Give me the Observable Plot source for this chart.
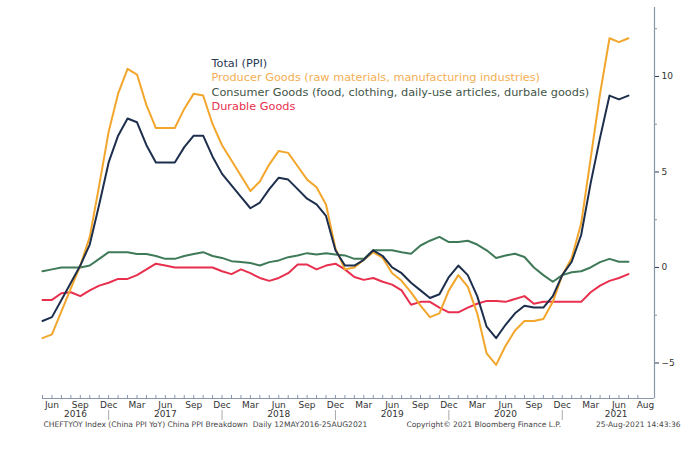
<!DOCTYPE html>
<html><head><meta charset="utf-8">
<script src="https://cdn.jsdelivr.net/npm/d3@7"></script>
<script src="https://cdn.jsdelivr.net/npm/@observablehq/plot@0.6"></script>
<style>body{margin:0;background:#fff;}</style>
</head><body><div id="chart"></div>
<script>
// Monthly values, May 2016 (index 0) .. Jul 2021 (index 62)
const total = [
  -2.8, -2.6, -1.7, -0.8, 0.1, 1.2, 3.3, 5.5,
  6.9, 7.8, 7.6, 6.4, 5.5, 5.5, 5.5, 6.3, 6.9, 6.9, 5.8, 4.9,
  4.3, 3.7, 3.1, 3.4, 4.1, 4.7, 4.6, 4.1, 3.6, 3.3, 2.7, 0.9,
  0.1, 0.1, 0.4, 0.9, 0.6, 0.0, -0.3, -0.8, -1.2, -1.6, -1.4, -0.5,
  0.1, -0.4, -1.5, -3.1, -3.7, -3.0, -2.4, -2.0, -2.1, -2.1, -1.5, -0.4,
  0.3, 1.7, 4.4, 6.8, 9.0, 8.8, 9.0
];
const producer = [
  -3.7, -3.5, -2.3, -1.1, 0.1, 1.6, 4.3, 7.1,
  9.1, 10.4, 10.1, 8.5, 7.3, 7.3, 7.3, 8.3, 9.1, 9.0, 7.5, 6.4,
  5.6, 4.8, 4.0, 4.5, 5.4, 6.1, 6.0, 5.3, 4.6, 4.2, 3.3, 1.0,
  -0.1, 0.0, 0.4, 0.8, 0.5, -0.3, -0.7, -1.3, -2.0, -2.6, -2.4, -1.2,
  -0.4, -1.0, -2.4, -4.5, -5.1, -4.1, -3.3, -2.8, -2.8, -2.7, -1.8, -0.4,
  0.5, 2.3, 5.7, 9.1, 12.0, 11.8, 12.0
];
const consumer = [
  -0.2, -0.1, 0.0, 0.0, 0.0, 0.1, 0.45, 0.8,
  0.8, 0.8, 0.7, 0.7, 0.6, 0.45, 0.45, 0.6, 0.7, 0.8, 0.6, 0.5,
  0.33, 0.28, 0.23, 0.1, 0.28, 0.37, 0.54, 0.63, 0.75, 0.68, 0.75, 0.68,
  0.63, 0.45, 0.45, 0.9, 0.9, 0.9, 0.8, 0.72, 1.15, 1.4, 1.6, 1.33,
  1.33, 1.4, 1.2, 0.9, 0.5, 0.63, 0.72, 0.55, 0.0, -0.4, -0.75, -0.4,
  -0.25, -0.2, 0.0, 0.28, 0.45, 0.3, 0.3
];
const durable = [
  -1.7, -1.7, -1.35, -1.3, -1.5, -1.2, -0.95, -0.8,
  -0.6, -0.6, -0.4, -0.1, 0.2, 0.1, 0.0, 0.0, 0.0, 0.0, 0.0, -0.2,
  -0.35, -0.1, -0.3, -0.55, -0.7, -0.55, -0.3, 0.15, 0.15, -0.1, 0.1, 0.2,
  -0.1, -0.5, -0.65, -0.55, -0.75, -0.9, -1.2, -1.95, -1.8, -1.8, -2.1, -2.35,
  -2.35, -2.1, -1.9, -1.75, -1.75, -1.8, -1.65, -1.5, -1.9, -1.8, -1.8, -1.8,
  -1.8, -1.8, -1.3, -0.95, -0.7, -0.55, -0.35
];

const seriesNames = [
  "Total (PPI)",
  "Producer Goods (raw materials, manufacturing industries)",
  "Consumer Goods (food, clothing, daily-use articles, durbale goods)",
  "Durable Goods"
];
const seriesValues = [total, producer, consumer, durable];
const lineColors = ["#1d2f4d", "#f2a62c", "#3f7a58", "#e8304e"];
const legendColors = ["#2a3a56", "#f3ae52", "#3f5547", "#e8304e"];

const monthTickIndex = [1,4,7,10,13,16,19,22,25,28,31,34,37,40,43,46,49,52,55,58,61,63.8];
const monthTickLabels = ["Jun","Sep","Dec","Mar","Jun","Sep","Dec","Mar","Jun","Sep","Dec","Mar","Jun","Sep","Dec","Mar","Jun","Sep","Dec","Mar","Jun","Aug"];
const yearLabelIndex = [3.5, 13, 25, 37, 49, 60.7];
const yearLabels = ["2016","2017","2018","2019","2020","2021"];
const yearSeparatorIndex = [7, 19, 31, 43, 55];
const minorMonthIndex = d3.range(0, 64);

const yMajorTicks = [-5, 0, 5, 10];
const yMinorTicks = [-2.5, 2.5, 7.5, 12.5];

const footerLeft = "CHEFTYOY Index (China PPI YoY) China PPI Breakdown  Daily 12MAY2016-25AUG2021";
const footerMid = "Copyright\u00A9 2021 Bloomberg Finance L.P.";
const footerRight = "25-Aug-2021 14:43:36";

const xDomain = [0, 64.76];
const yDomain = [-6.86, 13.61];

const rows = seriesNames.flatMap((name, k) =>
  seriesValues[k].map((v, i) => ({i, v, name})));

const monthLabelOf = new Map(monthTickIndex.map((x, k) => [x, monthTickLabels[k]]));
const yearLabelOf = new Map(yearLabelIndex.map((x, k) => [x, yearLabels[k]]));

const axisColor = "#8796aa";
const font = "DejaVu Sans";

const legendMarks = seriesNames.map((name, k) =>
  Plot.text([name], {
    frameAnchor: "top-left", dx: 169, dy: 51.5 + k * 14.4,
    textAnchor: "start", fill: legendColors[k], fontSize: 11.3
  }));

const drawOrder = [3, 2, 1, 0];

const chart = Plot.plot({
  width: 700, height: 449,
  marginLeft: 42, marginRight: 46, marginTop: 7, marginBottom: 51,
  style: {fontFamily: font, background: "#fff", color: "#333"},
  x: {domain: xDomain, axis: null},
  y: {domain: yDomain, axis: null},
  marks: [
    Plot.ruleY([yDomain[0]], {stroke: axisColor, strokeWidth: 1.2}),
    Plot.ruleX([xDomain[1]], {stroke: axisColor, strokeWidth: 1.2}),
    Plot.axisX({ticks: minorMonthIndex, tickSize: 3, dy: -3, text: null, label: null, stroke: axisColor}),
    Plot.axisX({ticks: yearSeparatorIndex, tickSize: 10, dy: 12, text: null, label: null, stroke: "#aaa"}),
    Plot.axisX({ticks: monthTickIndex, tickSize: 0, tickPadding: 3, tickFormat: d => monthLabelOf.get(d), label: null, fontSize: 9, fill: "#333"}),
    Plot.axisX({ticks: yearLabelIndex, tickSize: 0, tickPadding: 12, tickFormat: d => yearLabelOf.get(d), label: null, fontSize: 9, fill: "#333"}),
    Plot.axisY({anchor: "right", ticks: yMajorTicks, tickSize: 4, tickPadding: 3, label: null, fontSize: 9, stroke: "#2a3a56", fill: "#333"}),
    Plot.axisY({anchor: "right", ticks: yMinorTicks, tickSize: 2, text: null, label: null, stroke: axisColor}),
    ...drawOrder.map(k => Plot.line(rows.filter(r => r.name === seriesNames[k]), {
      x: "i", y: "v", stroke: lineColors[k], strokeWidth: 2, strokeLinejoin: "round"
    })),
    ...legendMarks,
    Plot.text([footerLeft], {frameAnchor: "bottom-left", dx: 1, dy: 28, textAnchor: "start", fontSize: 7.6, fill: "#444"}),
    Plot.text([footerMid], {frameAnchor: "bottom-left", dx: 364, dy: 28, textAnchor: "start", fontSize: 7.5, fill: "#444"}),
    Plot.text([footerRight], {frameAnchor: "bottom-right", dx: 26, dy: 28, textAnchor: "end", fontSize: 7.5, fill: "#444"})
  ]
});
document.getElementById("chart").append(chart);
</script>
</body></html>
